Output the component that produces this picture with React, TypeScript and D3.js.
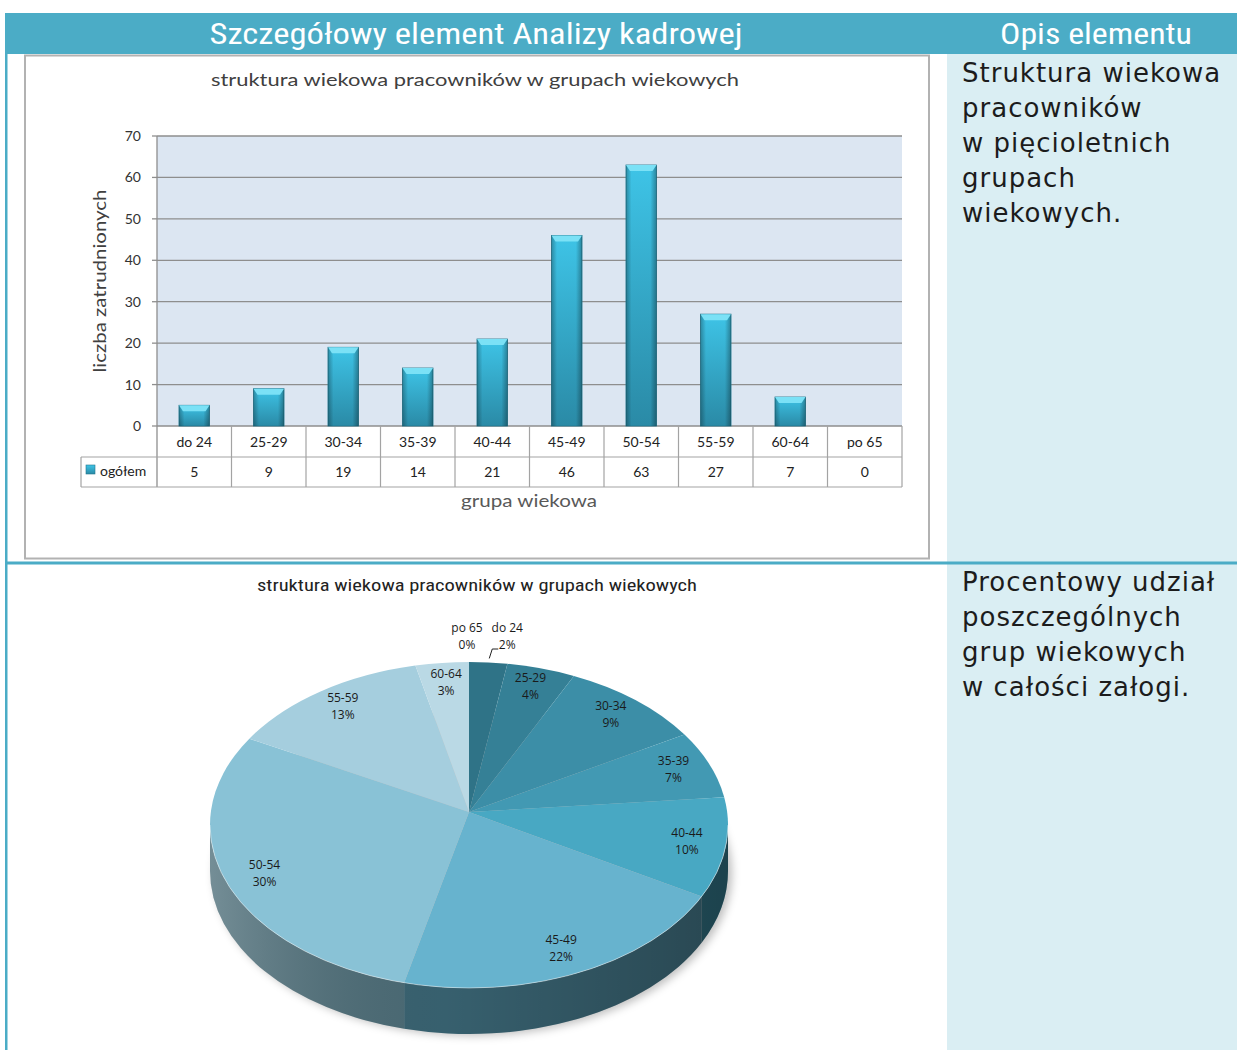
import * as d3 from "d3";

const categories = ["do 24", "25-29", "30-34", "35-39", "40-44", "45-49", "50-54", "55-59", "60-64", "po 65"];
const counts = [5, 9, 19, 14, 21, 46, 63, 27, 7, 0];
const yTicks = [0, 10, 20, 30, 40, 50, 60, 70];
const sliceColors = ["#2F7387", "#358096", "#3C8EA7", "#4299B3", "#48A8C3", "#67B3CE", "#89C2D6", "#A5CEDE", "#BAD9E5", "#C8E1EA"];

const seriesName = "ogółem";
const chartTitle = "struktura wiekowa pracowników w grupach wiekowych";
const xTitle = "grupa wiekowa";
const yTitle = "liczba zatrudnionych";
const headerLeft = "Szczegółowy element Analizy kadrowej";
const headerRight = "Opis elementu";
const desc1 = ["Struktura wiekowa", "pracowników", "w pięcioletnich", "grupach", "wiekowych."];
const desc2 = ["Procentowy udział", "poszczególnych", "grup wiekowych", "w całości załogi."];

const TEAL = "#4BACC6";
const chartFont = "Lato, 'Open Sans', sans-serif";
const narrowFont = "'Liberation Sans Narrow', 'Roboto Condensed', Roboto, sans-serif";
const descFont = "'DejaVu Sans', Verdana, sans-serif";

function BarChart() {
  const plot = { left: 157, right: 902, top: 136, bottom: 426 };
  const x = d3.scaleBand<string>().domain(categories).range([plot.left, plot.right]);
  const y = d3.scaleLinear().domain([0, 70]).range([plot.bottom, plot.top]);
  const bw = x.bandwidth();
  const barW = bw * 0.41;
  const row1 = plot.bottom + 31;
  const row2 = row1 + 30;
  const legendLeft = 81;

  return (
    <g>
      <rect x={25} y={55.5} width={904} height={503} fill="#fff" stroke="#B2B2B2" strokeWidth={2} />
      <text x={475} y={86} textAnchor="middle" fontFamily={chartFont} fontSize={18} fill="#404040"
        textLength={528} lengthAdjust="spacingAndGlyphs">{chartTitle}</text>

      <rect x={plot.left} y={plot.top} width={plot.right - plot.left} height={plot.bottom - plot.top} fill="#DCE6F2" />
      {yTicks.map(t => (
        <g key={t}>
          <line x1={plot.left} x2={plot.right} y1={y(t)} y2={y(t)} stroke="#8E8E8E" strokeWidth={1.3} />
          <line x1={plot.left - 5} x2={plot.left} y1={y(t)} y2={y(t)} stroke="#8E8E8E" strokeWidth={1.3} />
          <text x={141} y={y(t) + 5} textAnchor="end" fontFamily={chartFont} fontSize={14} fill="#333">{t}</text>
        </g>
      ))}
      <line x1={plot.left} x2={plot.left} y1={plot.top} y2={row2} stroke="#8E8E8E" strokeWidth={1.3} />

      {categories.map((c, i) => {
        const v = counts[i];
        if (v <= 0) return null;
        const x0 = x(c)! + (bw - barW) / 2;
        const yt = y(v);
        const h = y(0) - yt;
        return (
          <g key={c}>
            <rect x={x0} y={yt} width={barW} height={h} fill="url(#barBody)" stroke="#22778E" strokeWidth={0.8} />
            <rect x={x0} y={yt} width={barW} height={h} fill="url(#barShade)" />
            <polygon points={`${x0},${yt} ${x0 + barW},${yt} ${x0 + barW - 4},${yt + 6} ${x0 + 4},${yt + 6}`} fill="#7BE1F6" />
          </g>
        );
      })}

      {/* data table */}
      <g stroke="#A3A3A3" strokeWidth={1.2} fill="none">
        <line x1={legendLeft} x2={plot.right} y1={row1} y2={row1} />
        <line x1={legendLeft} x2={plot.right} y1={row2} y2={row2} />
        <line x1={legendLeft} x2={legendLeft} y1={row1} y2={row2} />
        {categories.map(c => (
          <line key={c} x1={x(c)! + bw} x2={x(c)! + bw} y1={plot.bottom} y2={row2} />
        ))}
      </g>
      {categories.map((c, i) => (
        <g key={c} fontFamily={chartFont} fontSize={14} fill="#222" textAnchor="middle">
          <text x={x(c)! + bw / 2} y={plot.bottom + 21}>{c}</text>
          <text x={x(c)! + bw / 2} y={row1 + 20}>{counts[i]}</text>
        </g>
      ))}
      <rect x={86} y={row1 + 8} width={9} height={9} fill="url(#barBody)" stroke="#22778E" strokeWidth={0.6} />
      <text x={100} y={row1 + 19} fontFamily={chartFont} fontSize={14} fill="#222">{seriesName}</text>

      <text x={529} y={507} textAnchor="middle" fontFamily={chartFont} fontSize={18} fill="#595959"
        textLength={136} lengthAdjust="spacingAndGlyphs">{xTitle}</text>
      <text transform={`translate(106,281) rotate(-90)`} textAnchor="middle" fontFamily={chartFont} fontSize={18}
        fill="#404040" textLength={183} lengthAdjust="spacingAndGlyphs">{yTitle}</text>
    </g>
  );
}

function PieChart() {
  const cx = 469, cy = 825, rx = 259, ry = 163, depth = 46;
  const apexY = cy - 13;
  const total = d3.sum(counts);
  const arcs = d3.pie<number>().sort(null).value(d => d)(counts);
  const pt = (a: number, dy = 0) => [cx + rx * Math.sin(a), cy - ry * Math.cos(a) + dy];
  const f = (p: number[]) => `${p[0].toFixed(2)},${p[1].toFixed(2)}`;
  const h0 = Math.PI / 2, h1 = Math.PI * 1.5;

  const sides = arcs.map((a, i) => {
    const s = Math.max(a.startAngle, h0), e = Math.min(a.endAngle, h1);
    if (e <= s) return null;
    const d = `M${f(pt(s))} A${rx},${ry} 0 0 1 ${f(pt(e))} L${f(pt(e, depth))} A${rx},${ry} 0 0 0 ${f(pt(s, depth))} Z`;
    return <path key={i} d={d} fill={d3.color(sliceColors[i])!.darker(1.6).formatHex()} />;
  });
  const sideAll = `M${f(pt(h0))} A${rx},${ry} 0 0 1 ${f(pt(h1))} L${f(pt(h1, depth))} A${rx},${ry} 0 0 0 ${f(pt(h0, depth))} Z`;

  return (
    <g>
      <text x={477} y={591} textAnchor="middle" fontFamily={narrowFont} fontSize={16} fill="#222"
        textLength={440} lengthAdjust="spacingAndGlyphs">{chartTitle}</text>
      <ellipse cx={cx + 4} cy={cy + depth + 2} rx={rx} ry={ry} fill="rgba(0,0,0,0.25)" filter="url(#pieShadow)" />
      {sides}
      <path d={sideAll} fill="url(#sideShade)" />
      {arcs.map((a, i) => {
        if (a.endAngle - a.startAngle <= 0) return null;
        const large = a.endAngle - a.startAngle > Math.PI ? 1 : 0;
        const d = `M${cx},${apexY} L${f(pt(a.startAngle))} A${rx},${ry} 0 ${large} 1 ${f(pt(a.endAngle))} Z`;
        return <path key={i} d={d} fill={sliceColors[i]} />;
      })}
      <path d={`M${f(pt(h0))} A${rx},${ry} 0 0 1 ${f(pt(h1))}`} fill="none" stroke="rgba(255,255,255,0.45)" strokeWidth={1} />
      {arcs.map((a, i) => {
        const m = (a.startAngle + a.endAngle) / 2;
        const pct = Math.round((counts[i] / total) * 100) + "%";
        const frac = counts[i] / total;
        let lx: number, ly: number;
        let leader: string | null = null;
        if (frac < 0.03) {
          const p = pt(m);
          lx = p[0] + (counts[i] > 0 ? 19 : -2);
          ly = cy - ry - 26;
          if (counts[i] > 0) leader = `M${p[0] + 1},${p[1] - 4} L${p[0] + 4},${ly + 13} L${p[0] + 10},${ly + 13}`;
        } else {
          lx = cx + rx * 0.85 * Math.sin(m);
          ly = cy - 4 - ry * 0.86 * Math.cos(m);
        }
        return (
          <g key={i} fontFamily="'Open Sans', sans-serif" fontSize={12} fill="#1A1A1A" textAnchor="middle">
            {leader && <path d={leader} fill="none" stroke="#222" strokeWidth={1} />}
            <text x={lx} y={ly - 4}>{categories[i]}</text>
            <text x={lx} y={ly + 13}>{pct}</text>
          </g>
        );
      })}
    </g>
  );
}

export default function App() {
  const W = 1237, H = 1050;
  return (
    <svg width={W} height={H} viewBox={`0 0 ${W} ${H}`} style={{ position: "absolute", left: 0, top: 0, background: "#fff" }}>
      <defs>
        <linearGradient id="barBody" x1="0" y1="0" x2="0" y2="1">
          <stop offset="0" stopColor="#3EC4E7" />
          <stop offset="1" stopColor="#2A8AA6" />
        </linearGradient>
        <linearGradient id="barShade" x1="0" y1="0" x2="1" y2="0">
          <stop offset="0" stopColor="#000" stopOpacity={0.28} />
          <stop offset="0.18" stopColor="#000" stopOpacity={0} />
          <stop offset="0.8" stopColor="#000" stopOpacity={0} />
          <stop offset="1" stopColor="#000" stopOpacity={0.32} />
        </linearGradient>
        <linearGradient id="sideShade" gradientUnits="userSpaceOnUse" x1={210} y1={0} x2={728} y2={0}>
          <stop offset="0" stopColor="#fff" stopOpacity={0.22} />
          <stop offset="0.45" stopColor="#000" stopOpacity={0.05} />
          <stop offset="1" stopColor="#000" stopOpacity={0.3} />
        </linearGradient>
        <filter id="pieShadow" x="-20%" y="-20%" width="140%" height="140%">
          <feGaussianBlur stdDeviation={4} />
        </filter>
      </defs>

      {/* page frame */}
      <rect x={947} y={53} width={W - 947} height={H - 53} fill="#DAEEF3" />
      <rect x={5} y={13} width={W - 5} height={41} fill={TEAL} />
      <rect x={5} y={13} width={2.5} height={H - 13} fill={TEAL} />
      <rect x={5} y={561.5} width={W - 5} height={3} fill={TEAL} />
      <text x={476} y={44} textAnchor="middle" fontFamily={narrowFont} fontSize={29} fill="#fff"
        textLength={533} lengthAdjust="spacingAndGlyphs">{headerLeft}</text>
      <text x={1096} y={44} textAnchor="middle" fontFamily={narrowFont} fontSize={29} fill="#fff"
        textLength={192} lengthAdjust="spacingAndGlyphs">{headerRight}</text>

      <g fontFamily={descFont} fontSize={26} fill="#1C1C1C" letterSpacing={1}>
        {desc1.map((t, i) => <text key={t} x={962} y={82 + i * 35}>{t}</text>)}
        {desc2.map((t, i) => <text key={t} x={962} y={591 + i * 35}>{t}</text>)}
      </g>

      <BarChart />
      <PieChart />
    </svg>
  );
}
